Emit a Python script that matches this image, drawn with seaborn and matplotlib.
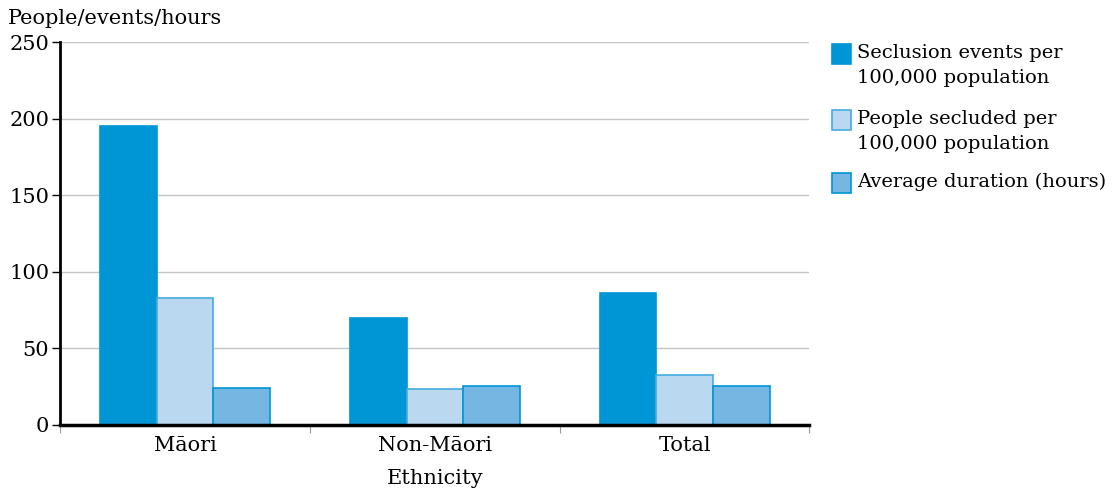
import numpy as np
import pandas as pd
import seaborn as sns
import matplotlib.pyplot as plt
from matplotlib.ticker import FixedLocator

ethnicity = ["Māori", "Non-Māori", "Total"]
measures = ["Seclusion events per\n100,000 population",
            "People secluded per\n100,000 population",
            "Average duration (hours)"]
events = [195, 70, 86]
people = [83, 23.5, 32.5]
duration = [24, 25.5, 25.5]

df = pd.DataFrame({
    "Ethnicity": ethnicity * 3,
    "Measure": [measures[0]] * 3 + [measures[1]] * 3 + [measures[2]] * 3,
    "Value": events + people + duration,
})

face_colors = ["#0096d6", "#bad8f0", "#76b6e3"]
edge_colors = ["#0096d6", "#45ace2", "#0096d6"]

sns.set_style("white")
plt.rcParams["font.family"] = ["DejaVu Serif"]
plt.rcParams["text.color"] = "black"
plt.rcParams["xtick.color"] = "black"
plt.rcParams["ytick.color"] = "black"
plt.rcParams["axes.labelcolor"] = "black"

W, H = 1115, 490
fig = plt.figure(figsize=(W / 100, H / 100), dpi=100)
ax = fig.add_axes([0.054, 0.133, 0.672, 0.781])

sns.barplot(data=df, x="Ethnicity", y="Value", hue="Measure",
            palette=face_colors, width=0.68, saturation=1, ax=ax,
            legend=False)

for container, ec in zip(ax.containers, edge_colors):
    for bar in container:
        bar.set_edgecolor(ec)
        bar.set_linewidth(1.2)

ax.set_ylim(0, 250)
ax.set_xlim(-0.5, 2.5)
ax.set_yticks([0, 50, 100, 150, 200, 250])
ax.yaxis.grid(True, color="#c4c4c4", linewidth=1)
ax.set_axisbelow(True)

for s in ["top", "right"]:
    ax.spines[s].set_visible(False)
ax.spines["left"].set_linewidth(2)
ax.spines["bottom"].set_linewidth(2.5)
ax.spines["left"].set_color("black")
ax.spines["bottom"].set_color("black")

ax.tick_params(axis="y", length=6, width=1, labelsize=15, pad=2, direction="out", left=True)
ax.tick_params(axis="x", which="major", length=0, labelsize=15, pad=8)
ax.xaxis.set_minor_locator(FixedLocator([-0.5, 0.5, 1.5, 2.5]))
ax.tick_params(axis="x", which="minor", length=6, width=0.8, color="#999999", bottom=True)

ax.set_xlabel("Ethnicity", fontsize=15, labelpad=10)
ax.set_ylabel("")
fig.text(0.007, 0.962, "People/events/hours", fontsize=15, va="center", ha="left")

# legend drawn by hand so the swatch sits beside the first line
legend_top = [44, 110, 173]
for m, fc, ec, top in zip(measures, face_colors, edge_colors, legend_top):
    fig.patches.append(plt.Rectangle((832 / W, 1 - (top + 20) / H), 19 / W, 20 / H,
                                     facecolor=fc, edgecolor=ec, linewidth=1.2,
                                     transform=fig.transFigure, figure=fig))
    fig.text(857 / W, 1 - top / H, m, fontsize=14, va="top", ha="left",
             linespacing=1.5)

fig.savefig("out.png", dpi=100)
